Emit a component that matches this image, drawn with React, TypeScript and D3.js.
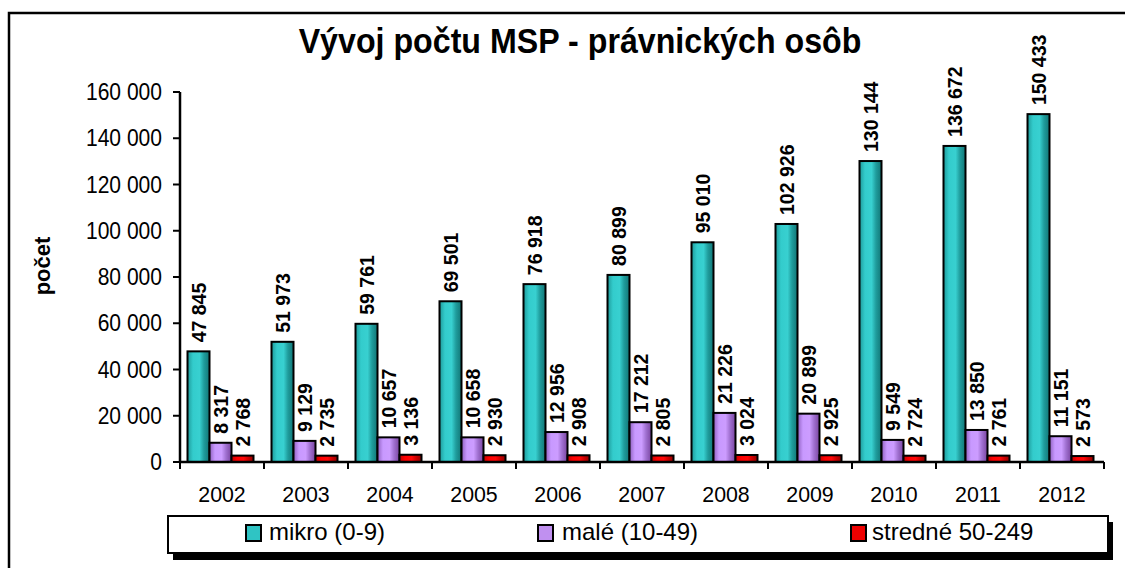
import React from "react";
import * as d3 from "d3";

const years = ["2002", "2003", "2004", "2005", "2006", "2007", "2008", "2009", "2010", "2011", "2012"];
const mikro = [47845, 51973, 59761, 69501, 76918, 80899, 95010, 102926, 130144, 136672, 150433];
const male = [8317, 9129, 10657, 10658, 12956, 17212, 21226, 20899, 9549, 13850, 11151];
const stredne = [2768, 2735, 3136, 2930, 2908, 2805, 3024, 2925, 2724, 2761, 2573];
const seriesNames = ["mikro (0-9)", "malé (10-49)", "stredné 50-249"];
const yTicks = [0, 20000, 40000, 60000, 80000, 100000, 120000, 140000, 160000];

const FONT = "'Liberation Sans', Arial, sans-serif";

const fmt = (v: number) => d3.format(",")(v).replace(/,/g, " ");

export default function App() {
  const W = 1125, H = 568;
  const x0 = 180, x1 = 1104, yTop = 92, yBot = 462;
  const x = d3.scaleBand<string>().domain(years).range([x0, x1]);
  const y = d3.scaleLinear().domain([0, 160000]).range([yBot, yTop]);
  const barW = 22;
  const inner = d3.scaleBand<number>().domain([0, 1, 2]).range([7.5, 7.5 + 3 * barW]);
  const series = [mikro, male, stredne];
  const grads = ["gMikro", "gMale", "gStred"];
  const legendSw = ["#2fc4c4", "#c090f0", "#ee0000"];
  const legendX = [246, 538, 851];
  const legendTextX = [269, 562, 872];

  return (
    <svg width={W} height={H} style={{ position: "absolute", left: 0, top: 0, background: "#fff" }}>
      <defs>
        <linearGradient id="gMikro" x1="0" x2="1" y1="0" y2="0">
          <stop offset="0" stopColor="#1e9a9a" />
          <stop offset="0.25" stopColor="#33cccc" />
          <stop offset="0.55" stopColor="#38d0d0" />
          <stop offset="0.75" stopColor="#1f9c9c" />
          <stop offset="1" stopColor="#117676" />
        </linearGradient>
        <linearGradient id="gMale" x1="0" x2="1" y1="0" y2="0">
          <stop offset="0" stopColor="#9060c0" />
          <stop offset="0.25" stopColor="#c899ff" />
          <stop offset="0.55" stopColor="#cc9cff" />
          <stop offset="0.75" stopColor="#a070d0" />
          <stop offset="1" stopColor="#7a44a0" />
        </linearGradient>
        <linearGradient id="gStred" x1="0" x2="1" y1="0" y2="0">
          <stop offset="0" stopColor="#c00000" />
          <stop offset="0.25" stopColor="#ff0000" />
          <stop offset="0.55" stopColor="#ff0808" />
          <stop offset="0.75" stopColor="#d00000" />
          <stop offset="1" stopColor="#900000" />
        </linearGradient>
      </defs>
      <rect x={0} y={0} width={W} height={H} fill="#fff" />
      {/* outer frame */}
      <rect x={9} y={13} width={1200} height={700} fill="none" stroke="#000" strokeWidth={2.5} />

      {/* title */}
      <text transform={`translate(580,53) scale(0.92,1)`} textAnchor="middle" fontFamily={FONT}
        fontWeight="bold" fontSize={35} fill="#000">Vývoj počtu MSP - právnických osôb</text>

      {/* y label */}
      <text transform={`translate(50,266) rotate(-90)`} textAnchor="middle" fontFamily={FONT}
        fontWeight="bold" fontSize={22} fill="#000">počet</text>

      {/* y ticks */}
      {yTicks.map((t) => (
        <g key={t}>
          <line x1={173} x2={x0} y1={y(t)} y2={y(t)} stroke="#000" strokeWidth={2} />
          <text transform={`translate(162,${y(t) + 8}) scale(0.915,1)`} textAnchor="end"
            fontFamily={FONT} fontSize={23} fill="#000">{fmt(t)}</text>
        </g>
      ))}

      {/* bars */}
      {years.map((yr, i) => (
        <g key={yr}>
          {series.map((s, k) => {
            const bx = (x(yr) as number) + (inner(k) as number);
            const by = y(s[i]);
            return (
              <g key={k}>
                <rect x={bx} y={by} width={barW} height={yBot - by} fill={`url(#${grads[k]})`}
                  stroke="#000" strokeWidth={2} />
                <text transform={`translate(${bx + barW / 2},${by - 9}) rotate(-90)`} dy="0.36em"
                  fontFamily={FONT} fontWeight="bold" fontSize={19.5} fill="#000">{fmt(s[i])}</text>
              </g>
            );
          })}
        </g>
      ))}

      {/* axes */}
      <line x1={x0} x2={x0} y1={yTop} y2={yBot} stroke="#000" strokeWidth={2.5} />
      <line x1={x0} x2={x1} y1={yBot} y2={yBot} stroke="#000" strokeWidth={2.5} />
      {[...years.map((yr) => x(yr) as number), x1].map((tx, i) => (
        <line key={i} x1={tx} x2={tx} y1={yBot} y2={yBot + 7} stroke="#000" strokeWidth={2} />
      ))}
      {years.map((yr) => (
        <text key={yr} transform={`translate(${(x(yr) as number) + x.bandwidth() / 2},502) scale(0.97,1)`}
          textAnchor="middle" fontFamily={FONT} fontSize={22} fill="#000">{yr}</text>
      ))}

      {/* legend */}
      <rect x={173} y={522} width={940} height={38} fill="#000" />
      <rect x={168} y={516} width={940} height={37} fill="#fff" stroke="#000" strokeWidth={2} />
      {seriesNames.map((n, k) => (
        <g key={n}>
          <rect x={legendX[k]} y={525} width={15} height={16} fill={legendSw[k]} stroke="#000" strokeWidth={2} />
          <text x={legendTextX[k]} y={540} fontFamily={FONT} fontSize={24} fill="#000">{n}</text>
        </g>
      ))}
    </svg>
  );
}
